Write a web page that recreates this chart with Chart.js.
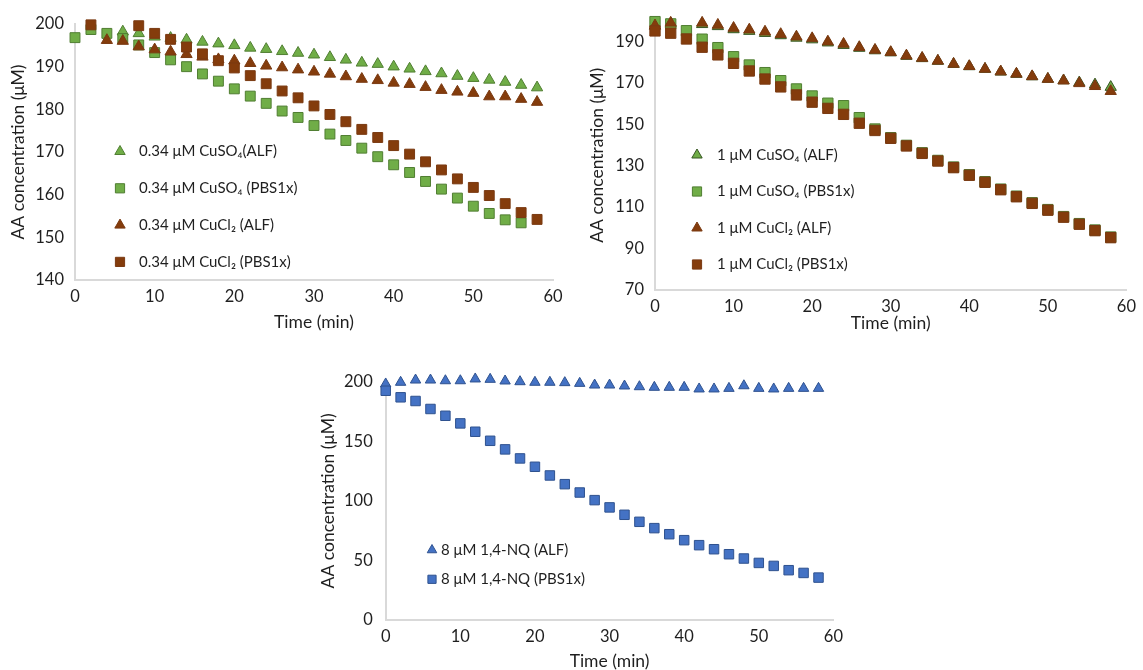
<!DOCTYPE html>
<html>
<head>
<meta charset="utf-8">
<script src="https://cdn.jsdelivr.net/npm/chart.js@4.4.0/dist/chart.umd.min.js"></script>
<style>
  body { margin: 0; background: #fff; width: 1143px; height: 670px; position: relative; overflow: hidden; }
  canvas { position: absolute; }
</style>
</head>
<body>
<canvas id="chartA" width="575" height="335" style="left:0;top:0"></canvas>
<canvas id="chartB" width="568" height="340" style="left:575px;top:0"></canvas>
<canvas id="chartC" width="545" height="318" style="left:305px;top:355px"></canvas>
<script>
// sampling times (min)
const times = [0, 2, 4, 6, 8, 10, 12, 14, 16, 18, 20, 22, 24, 26, 28, 30, 32, 34, 36, 38, 40, 42, 44, 46, 48, 50, 52, 54, 56, 58];
const xTicks = [0, 10, 20, 30, 40, 50, 60];

// chart A : 0.34 uM copper salts
const yTicksA = [140, 150, 160, 170, 180, 190, 200];
const cuso4AlfA = [null, null, null, 198.2, 197.8, 197.0, 196.7, 196.3, 195.8, 195.4, 195.0, 194.4, 194.1, 193.6, 193.2, 192.8, 192.2, 191.6, 190.9, 190.6, 190.0, 189.5, 188.9, 188.4, 187.8, 187.3, 186.9, 186.4, 185.7, 185.1];
const cuso4PbsA = [196.8, 198.7, 197.8, 196.6, 195.1, 193.3, 191.6, 190.0, 188.3, 186.6, 184.8, 183.1, 181.4, 179.6, 178.1, 176.2, 174.2, 172.7, 170.9, 168.9, 167.0, 165.2, 163.1, 161.3, 159.2, 157.3, 155.6, 154.1, 153.4, null];
const cucl2AlfA = [null, null, 196.2, 196.0, 194.7, 194.0, 193.5, 192.9, 192.3, 191.7, 191.4, 190.8, 190.2, 189.8, 189.3, 188.8, 188.3, 187.7, 187.1, 186.8, 186.2, 185.9, 185.2, 184.5, 184.1, 183.8, 183.0, 183.0, 182.4, 181.7];
const cucl2PbsA = [null, 199.8, null, null, 199.6, 197.8, 196.4, 194.6, 193.0, 191.4, 189.7, 187.9, 186.0, 184.3, 182.7, 180.8, 178.8, 177.1, 175.3, 173.4, 171.5, 169.5, 167.7, 165.8, 163.7, 161.7, 159.8, 157.9, 155.8, 154.2];

// chart B : 1 uM copper salts
const yTicksB = [70, 90, 110, 130, 150, 170, 190];
const cuso4AlfB = [197.6, 198.6, null, 198.4, 197.4, 195.9, 195.1, 194.1, 193.0, 191.8, 191.0, 189.5, 188.3, 186.9, 185.7, 184.7, 183.0, 181.9, 180.6, 179.1, 178.0, 176.7, 175.4, 174.3, 173.1, 171.9, 171.2, 170.2, 169.2, 168.0];
const cuso4PbsB = [199.7, 198.6, 195.3, 191.2, 187.1, 182.7, 178.7, 175.0, 171.1, 167.1, 163.7, 160.2, 159.0, 153.2, 147.7, 143.5, 139.8, 136.2, 132.5, 129.3, 125.6, 122.2, 118.6, 115.2, 112.0, 108.7, 105.3, 101.9, 98.8, 95.4];
const cucl2AlfB = [197.8, 199.1, null, 199.1, 198.1, 196.6, 195.8, 194.8, 193.6, 192.4, 191.6, 190.0, 188.9, 187.3, 186.0, 184.9, 183.2, 182.1, 180.7, 179.2, 178.1, 176.8, 175.5, 174.4, 173.2, 171.9, 171.1, 169.8, 168.4, 166.0];
const cucl2PbsB = [195.2, 194.1, 191.3, 187.3, 183.6, 179.5, 175.8, 171.9, 168.1, 164.2, 160.7, 157.7, 154.8, 150.5, 147.0, 143.2, 139.5, 135.9, 132.2, 129.0, 125.3, 121.9, 118.3, 114.9, 111.7, 108.4, 105.0, 101.6, 98.5, 95.1];

// chart C : 8 uM 1,4-NQ
const yTicksC = [0, 50, 100, 150, 200];
const nqAlf = [198.1, 199.5, 201.4, 201.4, 200.8, 200.8, 202.3, 202.0, 200.6, 200.0, 199.5, 199.5, 199.2, 198.6, 197.2, 197.2, 196.4, 195.8, 195.3, 195.3, 195.3, 193.9, 193.9, 194.4, 196.6, 194.4, 193.9, 194.4, 194.4, 194.4];
const nqPbs = [192.4, 186.9, 183.8, 177.1, 171.4, 165.0, 158.0, 150.4, 143.2, 135.6, 128.6, 121.3, 114.0, 107.0, 100.6, 94.5, 88.3, 82.4, 77.1, 72.0, 67.0, 62.8, 59.4, 55.2, 51.6, 47.9, 45.4, 41.8, 39.5, 35.6];

const GREEN = "#70AD47", GREEN_EDGE = "#507E32";
const BROWN = "#843C0C", BROWN_EDGE = "#7A3A12";
const BLUE = "#4472C4", BLUE_EDGE = "#2F528F";
const TEXT = "#1f1f1f";
const AXIS = "#d9d9d9";
const FONT = "Lato, 'DejaVu Sans', sans-serif";

Chart.defaults.font.family = FONT;
Chart.defaults.font.size = 16.5;
Chart.defaults.color = TEXT;

// legend drawn inside the plot, like the excel one
const insideLegend = {
  id: "insideLegend",
  afterDraw(chart, args, opts) {
    const ctx = chart.ctx;
    ctx.save();
    ctx.font = "15px " + FONT;
    ctx.textBaseline = "middle";
    chart.data.datasets.forEach((ds, i) => {
      const y = opts.y + i * opts.gap;
      ctx.fillStyle = ds.backgroundColor;
      ctx.strokeStyle = ds.borderColor;
      ctx.lineWidth = 1;
      Chart.helpers.drawPoint(ctx, {
        pointStyle: ds.pointStyle,
        radius: ds.pointStyle === "rect" ? opts.sq : opts.tri,
        rotation: 0,
        borderWidth: 1,
      }, opts.x, y);
      ctx.fillStyle = TEXT;
      ctx.fillText(ds.label, opts.textX, y);
    });
    ctx.restore();
  },
};

function buildChart(id, sets, cfg) {
  return new Chart(document.getElementById(id), {
    type: "scatter",
    data: {
      datasets: sets.map((s, i) => ({
        label: s.label,
        data: times.map((t, k) => ({ x: t, y: s.values[k] })).filter((p) => p.y !== null),
        pointStyle: s.style,
        pointRadius: s.style === "rect" ? cfg.sq : cfg.tri,
        pointHoverRadius: s.style === "rect" ? cfg.sq : cfg.tri,
        backgroundColor: s.fill,
        borderColor: s.edge,
        borderWidth: 1,
        order: sets.length - i,
        clip: false,
      })),
    },
    plugins: [insideLegend],
    options: {
      responsive: false,
      animation: false,
      layout: { padding: cfg.pad },
      plugins: {
        legend: { display: false },
        tooltip: { enabled: false },
        insideLegend: cfg.legend,
      },
      scales: {
        x: {
          type: "linear",
          min: 0,
          max: 60,
          afterBuildTicks: (scale) => { scale.ticks = xTicks.map((v) => ({ value: v })); },
          afterFit: (scale) => { scale.height = cfg.xH; },
          grid: { display: false, drawTicks: false },
          border: { color: AXIS, width: 2 },
          ticks: { padding: 7 },
          title: { display: true, text: "Time (min)", font: { size: 17.5 }, padding: { top: 0, bottom: cfg.xTitlePad } },
        },
        y: {
          min: cfg.yMin,
          max: cfg.yMax,
          afterBuildTicks: (scale) => { scale.ticks = cfg.yTicks.map((v) => ({ value: v })); },
          afterFit: (scale) => { scale.width = cfg.yW; },
          grid: { display: false, drawTicks: false },
          border: { color: AXIS, width: 2 },
          ticks: { padding: cfg.yTickPad },
          title: { display: true, text: "AA concentration (μM)", font: { size: 17.5 }, padding: { top: cfg.yTitlePad, bottom: 0 } },
        },
      },
    },
  });
}

buildChart("chartA", [
  { label: "0.34 μM CuSO₄(ALF)", values: cuso4AlfA, style: "triangle", fill: GREEN, edge: GREEN_EDGE },
  { label: "0.34 μM CuSO₄ (PBS1x)", values: cuso4PbsA, style: "rect", fill: GREEN, edge: GREEN_EDGE },
  { label: "0.34 μM CuCl₂ (ALF)", values: cucl2AlfA, style: "triangle", fill: BROWN, edge: BROWN_EDGE },
  { label: "0.34 μM CuCl₂ (PBS1x)", values: cucl2PbsA, style: "rect", fill: BROWN, edge: BROWN_EDGE },
], {
  pad: { left: 0, top: 24, right: 22, bottom: 0 },
  xH: 55, yW: 75, xTitlePad: 2.5, yTitlePad: 7.5, yTickPad: 11,
  yMin: 140, yMax: 200, yTicks: yTicksA,
  sq: 7, tri: 6.5,
  legend: { x: 120, y: 151.5, gap: 36.8, textX: 139, sq: 6.5, tri: 6 },
});

buildChart("chartB", [
  { label: "1 μM CuSO₄ (ALF)", values: cuso4AlfB, style: "triangle", fill: GREEN, edge: "#375623" },
  { label: "1 μM CuSO₄ (PBS1x)", values: cuso4PbsB, style: "rect", fill: GREEN, edge: GREEN_EDGE },
  { label: "1 μM CuCl₂ (ALF)", values: cucl2AlfB, style: "triangle", fill: BROWN, edge: BROWN_EDGE },
  { label: "1 μM CuCl₂ (PBS1x)", values: cucl2PbsB, style: "rect", fill: BROWN, edge: BROWN_EDGE },
], {
  pad: { left: 0, top: 21, right: 10, bottom: 0 },
  xH: 50.5, yW: 80, xTitlePad: 6.5, yTitlePad: 11.5, yTickPad: 11,
  yMin: 70, yMax: 200, yTicks: yTicksB,
  sq: 7.3, tri: 6.5,
  legend: { x: 122, y: 155, gap: 36.5, textX: 142, sq: 6.5, tri: 6 },
});

buildChart("chartC", [
  { label: "8 μM 1,4-NQ (ALF)", values: nqAlf, style: "triangle", fill: BLUE, edge: BLUE_EDGE },
  { label: "8 μM 1,4-NQ (PBS1x)", values: nqPbs, style: "rect", fill: BLUE, edge: BLUE_EDGE },
], {
  pad: { left: 0, top: 26.7, right: 13.3, bottom: 0 },
  xH: 53, yW: 80.7, xTitlePad: 1, yTitlePad: 12.5, yTickPad: 13,
  yMin: 0, yMax: 200, yTicks: yTicksC,
  sq: 6.7, tri: 6,
  legend: { x: 127, y: 195, gap: 29.3, textX: 136, sq: 5.8, tri: 5.5 },
});
</script>
</body>
</html>
